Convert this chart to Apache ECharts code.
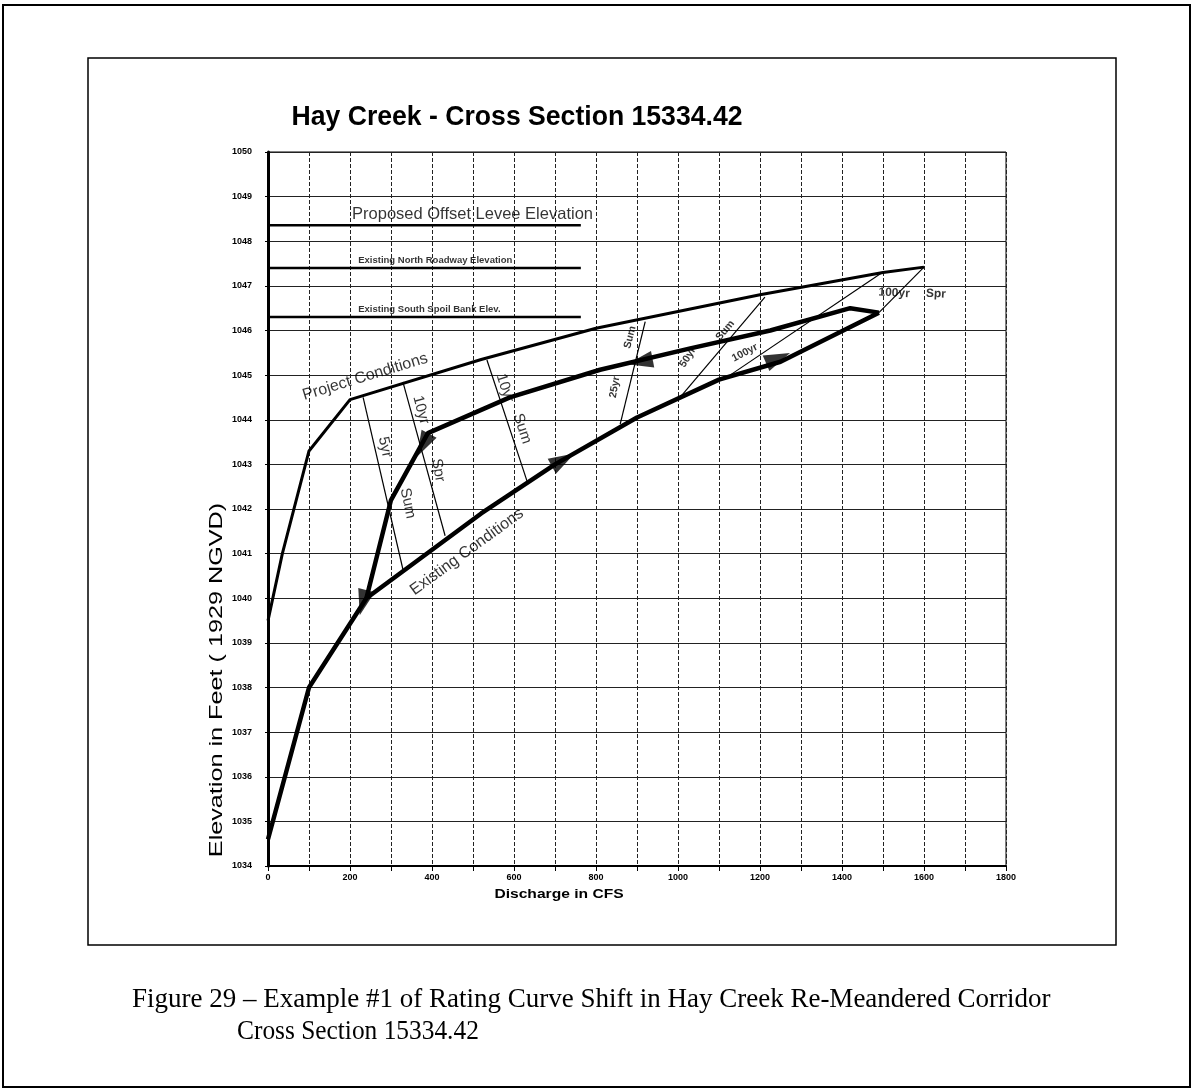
<!DOCTYPE html>
<html><head><meta charset="utf-8">
<script src="https://cdn.jsdelivr.net/npm/echarts@6/dist/echarts.min.js"></script>
<style>html,body{margin:0;padding:0;background:#fff}#c{width:1193px;height:1092px}</style>
</head><body><div id="c"></div>
<script>
// ---- data ----
const xTickLabels = ['0','200','400','600','800','1000','1200','1400','1600','1800'];
const yTickLabels = ['1034','1035','1036','1037','1038','1039','1040','1041','1042','1043','1044','1045','1046','1047','1048','1049','1050'];

const existingConditions = [[0,1034.6],[100,1038.0],[240,1040.0],[520,1041.9],[700,1043.0],[900,1044.05],[1100,1044.9],[1250,1045.3],[1490,1046.4]];
const projectConditions = [[0,1039.5],[35,1041.0],[100,1043.3],[200,1044.45],[520,1045.35],[800,1046.05],[1200,1046.8],[1500,1047.3],[1600,1047.42]];
const shiftedPath = [[240,1040.0],[300,1042.2],[390,1043.7],[590,1044.5],[810,1045.12],[1030,1045.6],[1225,1046.0],[1420,1046.5],[1490,1046.4]];

const stormNames = ['5yr Sum','10yr Spr','10yr Sum','25yr Sum','50yr Sum','100yr Sum','100yr Spr'];
const stormProjectPts = [[232,1044.5],[329,1044.85],[534,1045.34],[920,1046.2],[1212,1046.75],[1500,1047.31],[1600,1047.42]];
const stormExistingPts = [[329,1040.65],[432,1041.4],[632,1042.62],[859,1043.9],[1005,1044.5],[1127,1045.0],[1490,1046.4]];

const refNames = ['Proposed Offset Levee Elevation','Existing North Roadway Elevation','Existing South Spoil Bank Elev.'];
const refElev = [1048.36, 1047.4, 1046.3];
const refMaxQ = 763;

const arrowPts = [[720,1043.1],[1244,1045.38],[907,1045.3],[378,1043.43],[232,1039.9]];
const arrowDir = [-61,-67,101,152,165];

const curveLabels = ['Project Conditions','Existing Conditions'];
const curveLabelPts = [[237,1044.96],[485,1041.04]];
const curveLabelRot = [17,36];

const stormLabelText = ['5yr','Sum','10yr','Spr','10yr','Sum','25yr','Sum','50yr','Sum','100yr','100yr','Spr'];
const stormLabelPts = [[285,1043.39],[341,1042.13],[373,1044.22],[415,1042.87],[578,1044.71],[620,1043.8],[846,1044.73],[883,1045.85],[1024,1045.4],[1115,1046.0],[1163,1045.5],[1527,1046.84],[1629,1046.82]];
const stormLabelRot = [-78,-78,-75,-80,-72,-72,80,75,58,50,28,-3,-3];
const stormLabelBig = [1,1,1,1,1,1,0,0,0,0,0,2,2];

const refLabelPts = [[205,1048.59],[220,1047.58],[220,1046.48]];

// ---- chart ----
const chart = echarts.init(document.getElementById('c'));
const series = [];
series.push({type:'line', data:projectConditions, symbol:'none', lineStyle:{color:'#000', width:3}, z:5});
series.push({type:'line', data:existingConditions, symbol:'none', lineStyle:{color:'#000', width:4.5}, z:5});
series.push({type:'line', data:shiftedPath, symbol:'none', lineStyle:{color:'#000', width:4.5}, z:5});
stormNames.forEach((n,i)=>{
  series.push({type:'line', name:n, data:[stormProjectPts[i], stormExistingPts[i]], symbol:'none', lineStyle:{color:'#000', width:1.2}, z:4});
});
refNames.forEach((n,i)=>{
  series.push({type:'line', name:n, data:[[0,refElev[i]],[refMaxQ,refElev[i]]], symbol:'none', lineStyle:{color:'#000', width:2.5}, z:4});
});
series.push({type:'scatter', symbol:'triangle', symbolSize:[17,26], itemStyle:{color:'#000'}, z:6,
  data: arrowPts.map((p,i)=>({value:p, symbolRotate:arrowDir[i]}))});
const labelData = [];
curveLabels.forEach((t,i)=>labelData.push({value:curveLabelPts[i], label:{formatter:t, rotate:curveLabelRot[i], fontSize:16, fontWeight:'normal'}}));
stormLabelText.forEach((t,i)=>labelData.push({value:stormLabelPts[i], label:{formatter:t, rotate:stormLabelRot[i], fontSize: stormLabelBig[i]===1?15:(stormLabelBig[i]===2?12:10.5), fontWeight: stormLabelBig[i]===1?'normal':'bold'}}));
refNames.forEach((t,i)=>labelData.push({value:refLabelPts[i], label:{formatter:t, align:'left', fontSize: i===0?16.5:9.5, fontWeight: i===0?'normal':'bold'}}));
series.push({type:'scatter', symbolSize:0, z:7, silent:true,
  label:{show:true, position:[0,0], align:'center', verticalAlign:'middle', color:'#000', fontFamily:'Liberation Sans'},
  data: labelData});

chart.setOption({
  animation:false,
  backgroundColor:'#fff',
  grid:{left:268, top:152, right:187, bottom:226, show:true, borderColor:'#000', borderWidth:1},
  xAxis:{type:'value', min:0, max:1800, interval:100,
    axisLine:{onZero:false, lineStyle:{color:'#000', width:2}},
    axisTick:{show:true, length:5, lineStyle:{color:'#000'}},
    axisLabel:{formatter:v=> (Math.round(v)%200===0 ? xTickLabels[Math.round(v)/200] : ''), fontSize:9, fontWeight:'bold', color:'#000', margin:7, fontFamily:'Liberation Sans'},
    splitLine:{show:true, lineStyle:{color:'#222', type:[4,2], width:1}}},
  yAxis:{type:'value', min:1034, max:1050, interval:1,
    axisLine:{show:true, onZero:false, lineStyle:{color:'#000', width:3}},
    axisTick:{show:true, length:3, lineStyle:{color:'#000'}},
    axisLabel:{formatter:v=> yTickLabels[Math.round(v)-1034], fontSize:9, fontWeight:'bold', color:'#000', margin:16, fontFamily:'Liberation Sans'},
    splitLine:{show:true, lineStyle:{color:'#222', width:1}}},
  graphic:[
    {type:'rect', shape:{x:3,y:5,width:1187,height:1082}, style:{fill:'none', stroke:'#000', lineWidth:2}},
    {type:'rect', shape:{x:88,y:58,width:1028,height:887}, style:{fill:'none', stroke:'#000', lineWidth:1.5}},
    {type:'text', x:517, y:117, scaleX:0.95, style:{text:'Hay Creek - Cross Section 15334.42', font:'bold 28px "Liberation Sans"', fill:'#000', textAlign:'center', textVerticalAlign:'middle'}},
    {type:'text', x:217, y:680, rotation:Math.PI/2, scaleX:1.4, style:{text:'Elevation in Feet ( 1929 NGVD)', font:'18px "Liberation Sans"', fill:'#000', textAlign:'center', textVerticalAlign:'middle'}},
    {type:'text', x:559, y:895, scaleX:1.3, style:{text:'Discharge in CFS', font:'bold 12px "Liberation Sans"', fill:'#000', textAlign:'center', textVerticalAlign:'middle'}},
    {type:'text', x:132, y:1000, style:{text:'Figure 29 \u2013 Example #1 of Rating Curve Shift in Hay Creek Re-Meandered Corridor', font:'27px "Liberation Serif"', fill:'#000', textAlign:'left', textVerticalAlign:'middle'}},
    {type:'text', x:237, y:1032, scaleX:0.94, style:{text:'Cross Section 15334.42', font:'27px "Liberation Serif"', fill:'#000', textAlign:'left', textVerticalAlign:'middle'}}
  ],
  series: series
});
</script></body></html>
